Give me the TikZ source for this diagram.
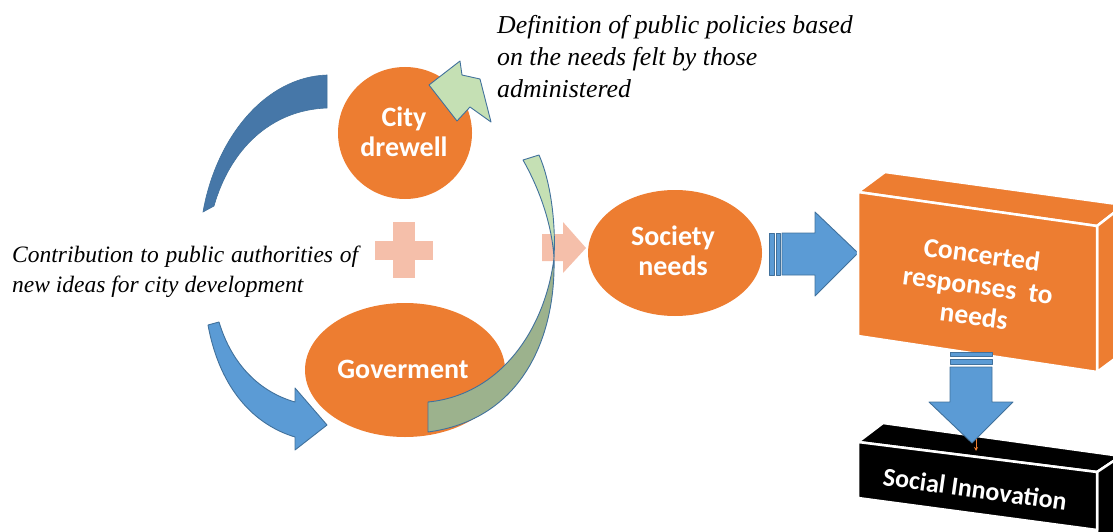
\documentclass[tikz,border=0pt]{standalone}
\usepackage{fontspec}
\usetikzlibrary{shapes.geometric,arrows.meta}
\setmainfont{Liberation Serif}
\newfontfamily\carl{Carlito}
\definecolor{org}{HTML}{ED7D31}
\definecolor{bl}{HTML}{5B9BD5}
\definecolor{bld}{HTML}{41719C}
\definecolor{arcb}{HTML}{4677A8}
\definecolor{lgr}{HTML}{C5E0B4}
\definecolor{dgr}{HTML}{9CB28D}
\definecolor{slm}{HTML}{F5BFAA}
\begin{document}
\begin{tikzpicture}[x=1pt,y=-1pt,
  orangeshape/.style={fill=org, draw=none},
  bluearrow/.style={fill=bl, draw=bld, line width=0.9pt, line join=round},
  greenpart/.style={draw=bld, line width=0.9pt, line join=round},
  boxface/.style={draw=white, line width=2.5pt, line join=round},
  wtext/.style={text=white, font=\carl\bfseries\fontsize{28}{30}\selectfont, align=center, inner sep=0pt},
  itext/.style={font=\itshape\fontsize{25.8}{32}\selectfont, align=left, inner sep=0pt}]
\useasboundingbox (0,0) rectangle (1113,532);
\clip (0,0) rectangle (1113,532);

% texts
\node[itext, anchor=north west] (deftext) at (497,15)
  {Definition of public policies based\\on the needs felt by those\\administered};
\node[itext, font=\itshape\fontsize{23.5}{30}\selectfont, anchor=north west] (contrib) at (12,246)
  {\makebox[346pt][s]{Contribution to public authorities of}\\new ideas for city development};

% plus sign
\fill[slm] (375,241) rectangle (433,260);
\fill[slm] (393,222) rectangle (415,278);

% salmon arrow
\fill[slm] (542,234) -- (563,234) -- (563,222) -- (586,248) -- (563,273) -- (563,261) -- (542,261) -- cycle;

% dark blue arc
\fill[arcb, draw=bld, line width=0.6pt] (327,75) .. controls (265,77) and (216,138) .. (203,212)
  -- (214,206) .. controls (230,150) and (270,110) .. (327,108) -- cycle;

% blue curved arrow
\path[bluearrow] (208,325) .. controls (220,390) and (255,425) .. (295,437)
  -- (295,450) -- (327,425) -- (295,388) -- (295,402)
  .. controls (260,392) and (232,365) .. (219,322) -- cycle;

% City drewell
\node[ellipse, orangeshape, minimum width=134pt, minimum height=132pt, inner sep=0pt] (city) at (405,133) {};
\node[wtext] (citytext) at (404,132) {City\\drewell};

% Goverment
\node[ellipse, orangeshape, minimum width=200pt, minimum height=134pt, inner sep=0pt] (gov) at (405,370) {};
\node[wtext] (govtext) at (403,369) {Goverment};

% Society needs
\node[ellipse, orangeshape, minimum width=174pt, minimum height=126pt, inner sep=0pt] (soc) at (675,253) {};
\node[wtext] (soctext) at (673,251) {Society\\needs};

% green arrow head (top)
\path[greenpart, fill=lgr] (429,85) -- (460,61) -- (462,75) -- (480,79) -- (491,122) -- (470,107) -- (457,121) -- cycle;

% green ribbon
\path[greenpart, fill=lgr] (523,160) .. controls (540,190) and (552,225) .. (554,258)
  .. controls (556,220) and (550,180) .. (539,155) -- cycle;
\path[greenpart, fill=dgr] (554,258) .. controls (556,340) and (520,420) .. (428,432)
  -- (428,402) .. controls (500,395) and (545,330) .. (554,258) -- cycle;

% striped right arrow
\path[bluearrow] (769,233) rectangle (774,275);
\path[bluearrow] (776,233) rectangle (780,275);
\path[bluearrow] (782,233) -- (815,233) -- (815,212) -- (858,253) -- (815,296) -- (815,275) -- (782,275) -- cycle;

% orange 3D box
\path[boxface, fill=org] (858,192) -- (885,172) -- (1124,205) -- (1097,226) -- cycle;
\path[boxface, fill=org] (1097,226) -- (1124,205) -- (1124,352) -- (1097,372) -- cycle;
\path[boxface, fill=org] (858,192) -- (1097,226) -- (1097,372) -- (858,336) -- cycle;
\node[wtext, font=\carl\bfseries\fontsize{27.5}{31}\selectfont, rotate=-7.5] (conc) at (978,285) {Concerted\\responses \ to\\needs};

% black 3D box
\path[boxface, fill=black] (858,442) -- (883,423) -- (1121,456) -- (1097,472) -- cycle;
\path[boxface, fill=black] (1097,472) -- (1121,456) -- (1121,545) -- (1097,545) -- cycle;
\path[boxface, fill=black] (858,442) -- (1097,472) -- (1097,530) -- (858,498) -- cycle;
\node[wtext, font=\carl\bfseries\fontsize{26}{28}\selectfont, rotate=-8] (soci) at (975,489) {Social Innovation};

% striped down arrow
\path[bluearrow] (950,352) rectangle (992,356);
\path[bluearrow] (950,359) rectangle (992,364);
\path[bluearrow] (950,367) -- (992,367) -- (992,402) -- (1013,402) -- (972,443) -- (929,402) -- (950,402) -- cycle;
\coordinate (tipa) at (976,439);
\coordinate (tipb) at (976,451);
\draw[org, line width=1pt, -{Stealth[length=4pt,width=4pt]}] (tipa) -- (tipb);
\end{tikzpicture}
\end{document}
